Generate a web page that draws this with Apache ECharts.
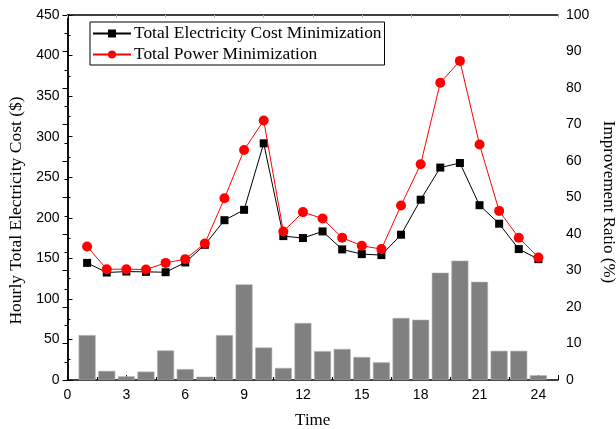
<!DOCTYPE html>
<html><head><meta charset="utf-8">
<script src="https://cdn.jsdelivr.net/npm/echarts@6/dist/echarts.min.js"></script>
<style>html,body{margin:0;padding:0;background:#fff}#c{width:616px;height:429px}</style>
</head><body><div id="c"></div>
<script>
const hours = [1,2,3,4,5,6,7,8,9,10,11,12,13,14,15,16,17,18,19,20,21,22,23,24];
const costMin = [144.4,132.5,133.7,133.3,132.9,144.9,166.7,197,209.8,291.8,177.4,175,183.2,161,155.2,154,179.1,222.3,261.9,267.5,215.5,192.7,161.4,149];
const powerMin = [164.6,136.6,136.6,136.2,144.4,149,168.3,224,283.6,320,183.1,207,199,175.4,165.5,161.4,215.2,266,366.4,393.4,290.3,208.5,175.4,151.1];
const ratio = [12.3,2.5,1.0,2.3,8.1,3.0,0.9,12.3,26.2,8.9,3.3,15.6,7.9,8.5,6.3,4.85,17.0,16.5,29.4,32.7,26.9,8.0,8.0,1.3];
const xTicks = [0,3,6,9,12,15,18,21,24];

const pair = arr => hours.map((h,i)=>[h,arr[i]]);
const sans = 'Liberation Sans, Arial, sans-serif';
const serif = 'Liberation Serif, Times New Roman, serif';
const chart = echarts.init(document.getElementById('c'), null, {renderer:'canvas'});
chart.setOption({
  animation:false,
  backgroundColor:'#fff',
  grid:{left:67.5,right:58,top:15,bottom:49,containLabel:false,outerBoundsMode:'none'},
  legend:{
    left:90, top:22, orient:'vertical', itemWidth:38, itemHeight:10, itemGap:4,
    borderColor:'#000', borderWidth:1, padding:[3,3,2,2],
    textStyle:{fontFamily:serif,fontSize:17.4,color:'#000',padding:[0,0,0,-2]},
    data:['Total Electricity Cost Minimization','Total Power Minimization']
  },
  xAxis:[{
    type:'value', min:0, max:25, interval:3,
    name:'Time', nameLocation:'middle', nameGap:32,
    nameTextStyle:{fontFamily:serif,fontSize:17,color:'#000'},
    axisLine:{show:true,onZero:false,lineStyle:{color:'#000',width:1.5}},
    axisTick:{show:true,inside:true,length:5,lineStyle:{color:'#000'}},
    minorTick:{show:true,splitNumber:2,length:3,lineStyle:{color:'#000'}},
    axisLabel:{fontFamily:sans,fontSize:14,color:'#000',margin:8,showMaxLabel:false,
      formatter:v=>xTicks.includes(v)?String(v):''},
    splitLine:{show:false}
  },{
    type:'value', min:0, max:25, interval:2.5, position:'top',
    axisLine:{show:true,onZero:false,lineStyle:{color:'#000',width:1.5}},
    axisTick:{show:true,inside:true,length:3,lineStyle:{color:'#bbb'}},
    axisLabel:{show:false}, splitLine:{show:false}
  }],
  yAxis:[{
    type:'value', min:0, max:450, interval:50,
    name:'Hourly Total Electricity Cost ($)', nameLocation:'middle', nameGap:39, nameRotate:90,
    nameTextStyle:{fontFamily:serif,fontSize:17.5,color:'#000',padding:[0,26,0,0]},
    axisLine:{show:true,lineStyle:{color:'#000',width:1.5}},
    axisTick:{show:true,inside:true,length:5,lineStyle:{color:'#000'}},
    minorTick:{show:true,splitNumber:2,length:3,lineStyle:{color:'#000'}},
    axisLabel:{fontFamily:sans,fontSize:14,color:'#000',margin:8},
    splitLine:{show:false}
  },{
    type:'value', min:0, max:100, interval:10, position:'right',
    name:'Improvement Ratio (%)', nameLocation:'middle', nameGap:40, nameRotate:-90,
    nameTextStyle:{fontFamily:serif,fontSize:17,color:'#000',padding:[0,0,0,9]},
    axisLine:{show:true,lineStyle:{color:'#000',width:1.5}},
    axisTick:{show:true,inside:true,length:5,lineStyle:{color:'#000'}},
    minorTick:{show:true,splitNumber:2,length:3,lineStyle:{color:'#000'}},
    axisLabel:{fontFamily:sans,fontSize:14,color:'#000',margin:8},
    splitLine:{show:false}
  }],
  series:[{
    name:'Improvement Ratio', type:'bar', yAxisIndex:1, barWidth:17,
    itemStyle:{color:'#808080',borderColor:'#b0b0b0',borderWidth:0.6},
    data:pair(ratio), z:1
  },{
    name:'Total Electricity Cost Minimization', type:'line', yAxisIndex:0,
    symbol:'rect', symbolSize:8, lineStyle:{color:'#000',width:1},
    itemStyle:{color:'#000'}, data:pair(costMin), z:3
  },{
    name:'Total Power Minimization', type:'line', yAxisIndex:0,
    symbol:'circle', symbolSize:10, lineStyle:{color:'#ff0000',width:1},
    itemStyle:{color:'#ff0000'}, data:pair(powerMin), z:4
  }]
});
</script></body></html>
